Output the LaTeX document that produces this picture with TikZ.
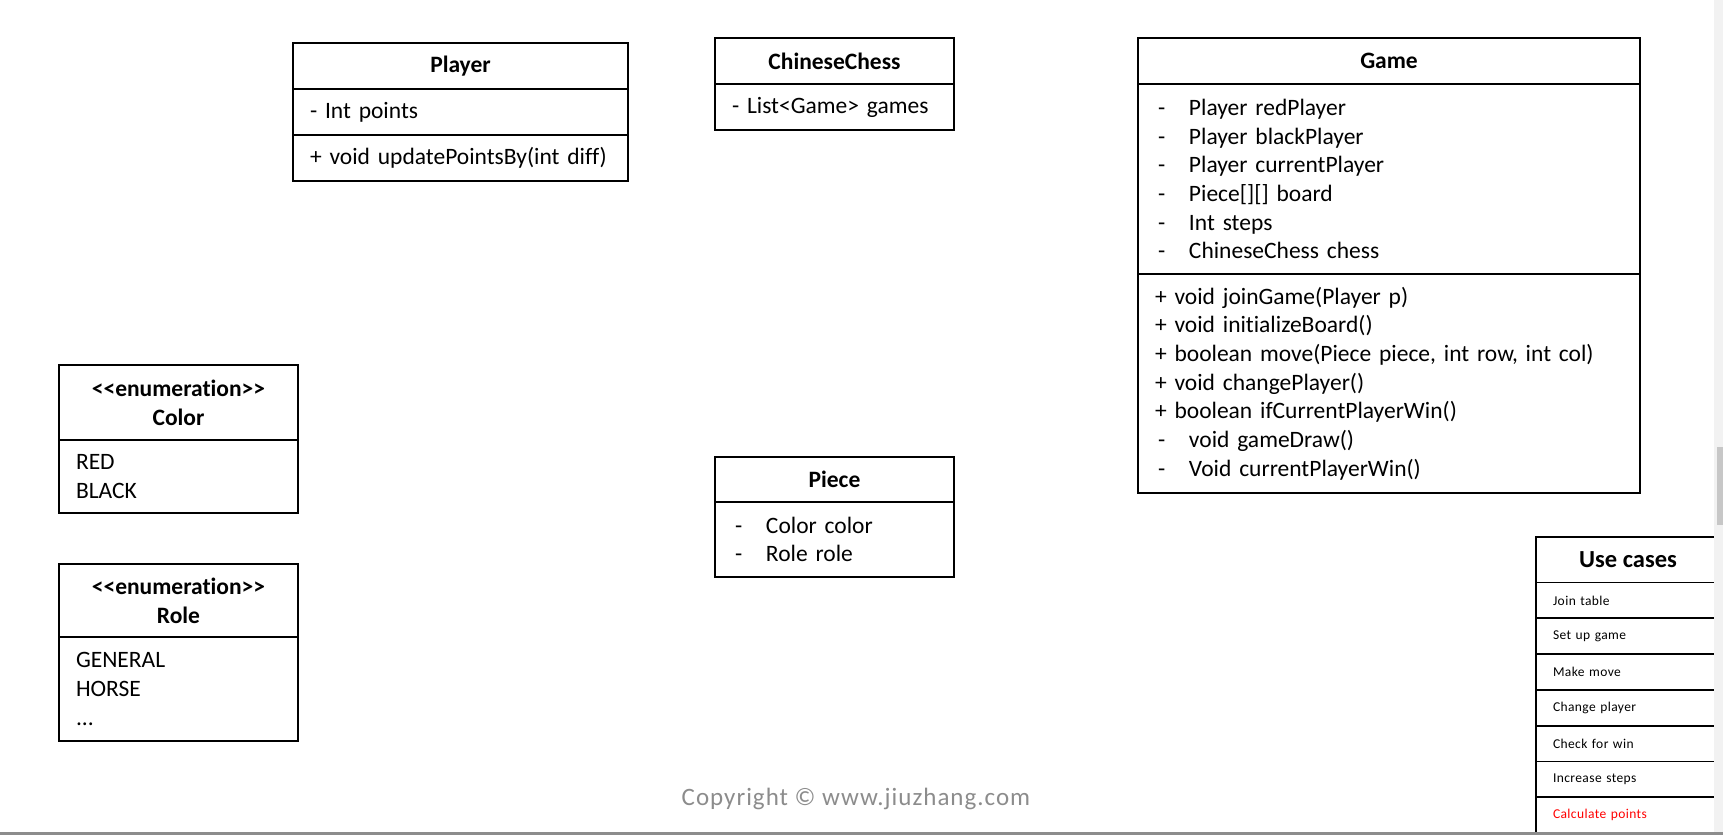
\documentclass[tikz,border=0pt]{standalone}
\usepackage{fontspec}
\setmainfont{Carlito}[Ligatures={TeXOff,CommonOff}]
\usetikzlibrary{positioning}
\newcommand{\umlfont}{\fontsize{23.5}{28.7}\selectfont}
\newcommand{\casefont}{\fontsize{13.5}{16}\selectfont\addfontfeature{LetterSpace=3}}
\definecolor{copygray}{HTML}{8C8C8C}

\begin{document}
\begin{tikzpicture}[x=1pt, y=-1pt,
    box/.style={draw, line width=1.8pt, inner ysep=0pt, inner xsep=17pt, outer sep=0pt},
    head/.style={box, font=\umlfont\bfseries, align=center},
    body/.style={box, font=\umlfont, align=left},
    usecase/.style={box, font=\casefont, align=left, text width=150pt, minimum height=35.8pt}]
  \def \privdash {\makebox[34pt][l]{\hspace{3pt}-}}

  \useasboundingbox (0,0) rectangle (1723,835);

  % Player
  \node[head, minimum width=335pt, minimum height=46pt, anchor=north west] (player) at (293,43) {Player};
  \node[body, text width=301pt, minimum height=46pt, below=0pt of player] (playerattr) {- Int points};
  \node[body, text width=301pt, minimum height=46pt, below=0pt of playerattr] (playerops) {+ void updatePointsBy(int diff)};

  % ChineseChess
  \node[head, minimum width=239pt, minimum height=46pt, anchor=north west] (chess) at (715,38) {ChineseChess};
  \node[body, text width=205pt, minimum height=46pt, below=0pt of chess] (chessattr) {- List<Game> games};

  % Game
  \node[head, minimum width=502pt, minimum height=46pt, anchor=north west] (game) at (1138,38) {Game};
  \node[body, text width=468pt, minimum height=190pt, below=0pt of game] (gameattr)
    {\privdash Player redPlayer\\
     \privdash Player blackPlayer\\
     \privdash Player currentPlayer\\
     \privdash Piece[][] board\\
     \privdash Int steps\\
     \privdash ChineseChess chess};
  \node[body, text width=468pt, minimum height=219pt, below=0pt of gameattr] (gameops)
    {+ void joinGame(Player p)\\
     + void initializeBoard()\\
     + boolean move(Piece piece, int row, int col)\\
     + void changePlayer()\\
     + boolean ifCurrentPlayerWin()\\
     \privdash void gameDraw()\\
     \privdash Void currentPlayerWin()};

  % enumerations
  \node[head, minimum width=239pt, minimum height=75pt, anchor=north west] (color) at (59,365) {<<enumeration>>\\Color};
  \node[body, text width=205pt, minimum height=73pt, below=0pt of color] (colorvals) {RED\\BLACK};
  \node[head, minimum width=239pt, minimum height=73pt, anchor=north west] (role) at (59,564) {<<enumeration>>\\Role};
  \node[body, text width=205pt, minimum height=104pt, below=0pt of role] (rolevals) {GENERAL\\HORSE\\...};

  % Piece
  \node[head, minimum width=239pt, minimum height=45pt, anchor=north west] (piece) at (715,457) {Piece};
  \node[body, text width=205pt, minimum height=75pt, below=0pt of piece] (pieceattr)
    {\privdash Color color\\
     \privdash Role role};

  % Use cases
  \node[head, minimum width=184pt, minimum height=45.5pt, anchor=north west, font=\fontsize{24.5}{29}\selectfont\bfseries] (cases) at (1536,537) {Use cases};
  \node[usecase, below=0pt of cases] (join) {Join table};
  \node[usecase, below=0pt of join] (setup) {Set up game};
  \node[usecase, below=0pt of setup] (move) {Make move};
  \node[usecase, below=0pt of move] (change) {Change player};
  \node[usecase, below=0pt of change] (check) {Check for win};
  \node[usecase, below=0pt of check] (steps) {Increase steps};
  \node[usecase, below=0pt of steps, text=red] (points) {Calculate points};

  \node[font=\fontsize{25}{30}\selectfont\addfontfeature{LetterSpace=4}, text=copygray] (copyright) at (856,799) {Copyright © www.jiuzhang.com};

  % window edges
  \fill[black!5] (1714,0) rectangle (1723,835);
  \fill[black!22] (1716.5,447) rectangle (1723,525);
  \fill[black!45] (0,832) rectangle (1723,835);
\end{tikzpicture}
\end{document}
